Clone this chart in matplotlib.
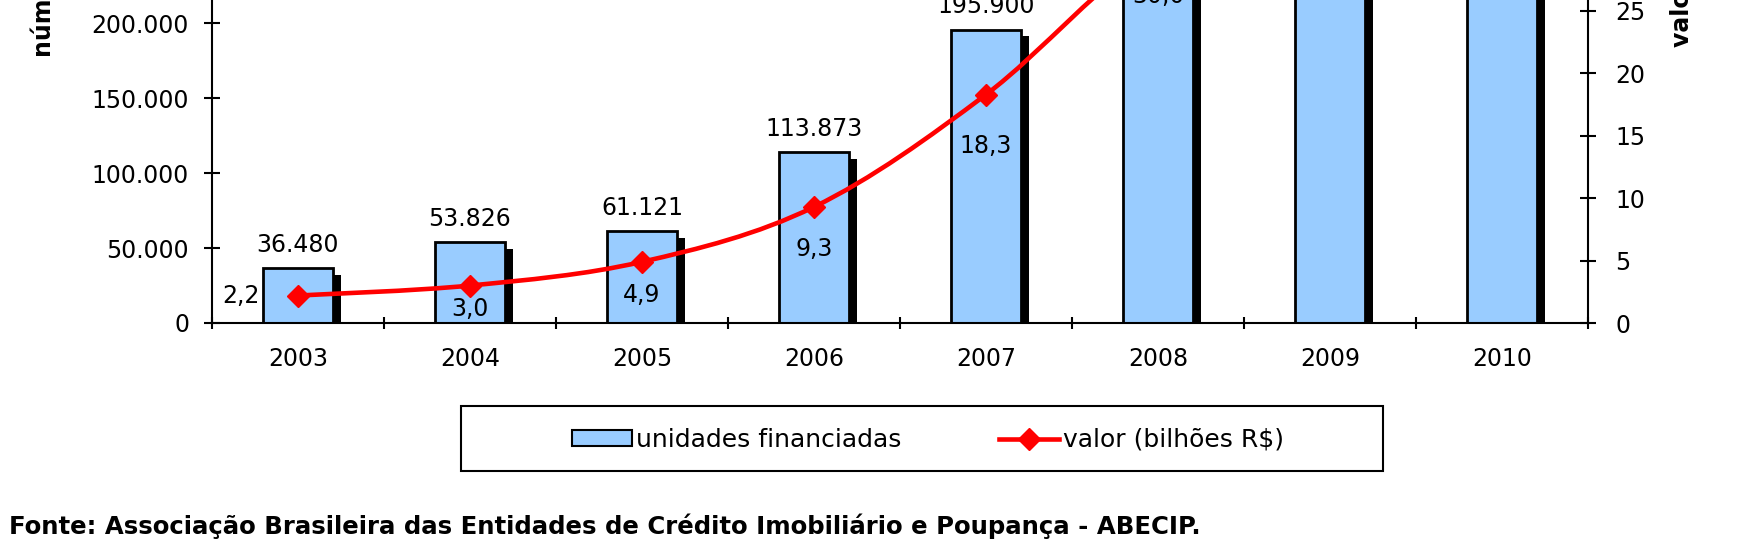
import matplotlib
matplotlib.use("Agg")
import matplotlib.pyplot as plt
from matplotlib.path import Path
from matplotlib.patches import PathPatch, Rectangle, Patch
from matplotlib.lines import Line2D
from matplotlib.ticker import FuncFormatter, MultipleLocator
import matplotlib.patheffects as pe

plt.rcParams['font.family'] = ['DejaVu Sans']

# dados
anos = ["2003", "2004", "2005", "2006", "2007", "2008", "2009", "2010"]
unidades = [36480, 53826, 61121, 113873, 195900, 299685, 302685, 421386]
valor = [2.2, 3.0, 4.9, 9.3, 18.3, 30.0, 34.0, 56.2]

# deslocamento dos rótulos da linha (pontos), só estilo
off_valor = [(-41, 0), (0, -17), (0, -24), (0, -30), (0, -37), (0, -34), (0, -34), (0, -34)]

AZUL = "#99CCFF"
VERMELHO = "#FF0000"
FS = 17


def milhar(v, pos=None):
    return f"{int(round(v)):,}".replace(",", ".")


fig = plt.figure(figsize=(17.54, 5.48), dpi=100)
ax = fig.add_axes([212 / 1754, 225 / 548, 1376 / 1754, 374.5 / 548])
ax2 = ax.twinx()

x = list(range(len(anos)))

barras = ax.bar(x, unidades, width=0.41, color=AZUL, edgecolor="black", linewidth=2, zorder=2)
for b in barras:
    b.set_path_effects([pe.SimplePatchShadow(offset=(5.8, -5), shadow_rgbFace="black", alpha=1),
                        pe.Normal()])

for xi, u in zip(x, unidades):
    ax.annotate(milhar(u), (xi, u), xytext=(0, 8), textcoords="offset points",
                ha="center", va="bottom", fontsize=FS, annotation_clip=False)

ax.set_xlim(-0.5, len(anos) - 0.5)
ax.set_ylim(0, 250000)
ax.yaxis.set_major_locator(MultipleLocator(50000))
ax.yaxis.set_major_formatter(FuncFormatter(milhar))
ax.set_xticks([i + 0.5 for i in range(-1, len(anos))], minor=False)
ax.set_xticklabels([])
ax.set_xticks(x, minor=True)
ax.set_xticklabels(anos, minor=True)
ax.tick_params(axis="x", which="major", direction="inout", length=9, width=1.5)
ax.tick_params(axis="x", which="minor", length=0, pad=17.5, labelsize=FS)
ax.tick_params(axis="y", direction="inout", length=11, width=1.5, pad=11, labelsize=FS)
ax.spines["top"].set_visible(False)
ax.spines["right"].set_visible(False)
for s in ("left", "bottom"):
    ax.spines[s].set_linewidth(1.5)

# linha suavizada (Bezier a partir dos pontos)
ax2.set_ylim(0, 30)
ax2.yaxis.set_major_locator(MultipleLocator(5))
ax2.tick_params(axis="y", direction="inout", length=11, width=1.5, pad=14, labelsize=FS)
ax2.spines["top"].set_visible(False)
ax2.spines["left"].set_visible(False)
ax2.spines["bottom"].set_visible(False)
ax2.spines["right"].set_linewidth(1.5)

pts = list(zip(x, valor))
verts = [pts[0]]
codes = [Path.MOVETO]
n = len(pts)
for i in range(n - 1):
    p0 = pts[i - 1] if i > 0 else pts[i]
    p1 = pts[i]
    p2 = pts[i + 1]
    p3 = pts[i + 2] if i + 2 < n else pts[i + 1]
    c1 = (p1[0] + (p2[0] - p0[0]) / 6, p1[1] + (p2[1] - p0[1]) / 6)
    c2 = (p2[0] - (p3[0] - p1[0]) / 6, p2[1] - (p3[1] - p1[1]) / 6)
    verts += [c1, c2, p2]
    codes += [Path.CURVE4] * 3
ax2.add_patch(PathPatch(Path(verts, codes), facecolor="none", edgecolor=VERMELHO,
                        linewidth=3.3, capstyle="round", joinstyle="round", zorder=3))
ax2.plot(x, valor, linestyle="none", marker="D", markersize=11, color=VERMELHO, zorder=4)

for xi, v, off in zip(x, valor, off_valor):
    ax2.annotate(f"{v:.1f}".replace(".", ","), (xi, v), xytext=off, textcoords="offset points",
                 ha="center", va="center", fontsize=FS, annotation_clip=False)

# títulos dos eixos (cortados no topo)
fig.text(44 / 1754, 1 - 57 / 548, "número de unidades financiadas", rotation=90,
         ha="center", va="bottom", fontsize=17, fontweight="bold")
fig.text(1682 / 1754, 1 - 47 / 548, "valor (bilhões R$)", rotation=90,
         ha="center", va="bottom", fontsize=17, fontweight="bold")

# legenda
h_bar = Patch(facecolor=AZUL, edgecolor="black", linewidth=1.5)
h_lin = Line2D([], [], color=VERMELHO, linewidth=3.3, marker="D", markersize=11)
fig.legend([h_bar, h_lin], ["unidades financiadas", "valor (bilhões R$)"], loc="center",
           bbox_to_anchor=(928 / 1754, 1 - 440 / 548), ncol=2, frameon=False,
           fontsize=18, handlelength=2.4, handleheight=0.6, handletextpad=0.15, columnspacing=3.9)
fig.patches.append(Rectangle((461 / 1754, 1 - 471 / 548), 922 / 1754, 65 / 548,
                             transform=fig.transFigure, fill=False, edgecolor="black",
                             linewidth=1.5))

fig.text(9 / 1754, 1 - 526 / 548,
         "Fonte: Associação Brasileira das Entidades de Crédito Imobiliário e Poupança - ABECIP.",
         ha="left", va="center", fontsize=17.6, fontweight="bold")

fig.savefig("out.png", dpi=100, facecolor="white")
plt.close(fig)
